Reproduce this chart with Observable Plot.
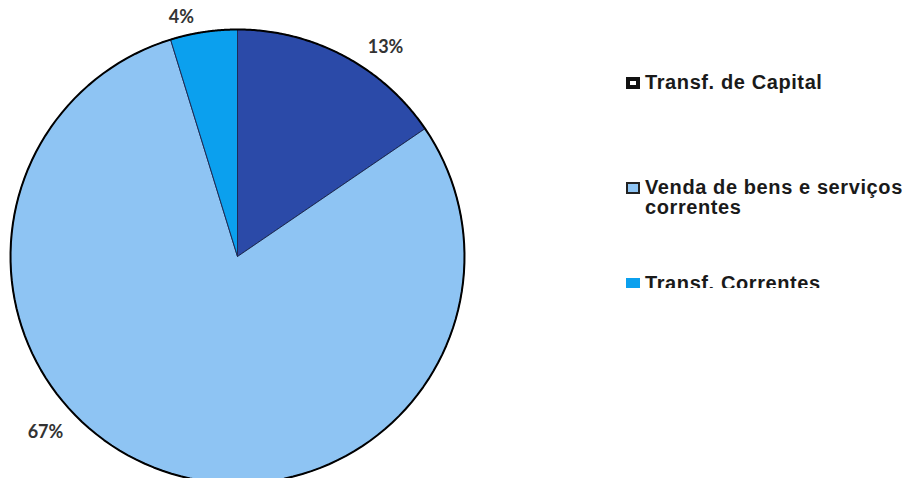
<!DOCTYPE html>
<html><head><meta charset="utf-8">
<script src="https://cdn.jsdelivr.net/npm/d3@7"></script>
<script src="https://cdn.jsdelivr.net/npm/@observablehq/plot@0.6"></script>
<style>
body{margin:0;overflow:hidden;background:#fff}
#wrap{position:relative;width:911px;height:478px;overflow:hidden}
.lg{position:absolute;font-family:"Liberation Sans",Arial,sans-serif;font-weight:bold;font-size:20px;color:#1a1a1a;line-height:20px;letter-spacing:0.6px;white-space:nowrap}
.mk{position:absolute;box-sizing:border-box;width:14px;height:12px}
#mask{position:absolute;left:610px;top:288px;width:301px;height:30px;background:#fff}
</style></head><body>
<div id="wrap"></div>
<script>
const categories = ["Transf. de Capital", "Venda de bens e serviços correntes", "Transf. Correntes"];
const values = [13, 67, 4];
const pctLabels = ["13%", "67%", "4%"];
const colors = ["#2b4aa8", "#8ec4f3", "#0ba0ee"];

const data = categories.map((c, i) => ({category: c, value: values[i], label: pctLabels[i]}));
const arcs = d3.pie().sort(null).value(d => d.value)(data);
const N = 120;
const slicePts = [];
const rimPts = [];
for (const a of arcs) {
  const c = a.data.category;
  slicePts.push({category: c, x: 0, y: 0});
  for (let k = 0; k <= N; k++) {
    const t = a.startAngle + (a.endAngle - a.startAngle) * k / N;
    slicePts.push({category: c, x: Math.sin(t), y: Math.cos(t)});
    rimPts.push({x: Math.sin(t), y: Math.cos(t)});
  }
  slicePts.push({category: c, x: 0, y: 0});
}
// label anchor positions (data units relative to pie centre)
const labelPos = {"13%": [0.652, 0.921], "67%": [-0.846, -0.775], "4%": [-0.247, 1.053]};
const labelData = data.map(d => ({label: d.label, x: labelPos[d.label][0], y: labelPos[d.label][1]}));

const chart = Plot.plot({
  width: 911, height: 478,
  margin: 0,
  style: {background: "transparent", overflow: "visible"},
  x: {domain: [-1, 1], range: [10, 464], axis: null},
  y: {domain: [-1, 1], range: [483, 29], axis: null},
  color: {domain: categories, range: colors},
  marks: [
    Plot.line(slicePts, {x: "x", y: "y", z: "category", fill: "category", stroke: "#1d2b55", strokeWidth: 1, curve: "linear"}),
    Plot.line(rimPts, {x: "x", y: "y", stroke: "#000", strokeWidth: 2, curve: "linear"}),
    Plot.text(labelData, {x: "x", y: "y", text: "label", fontSize: 18, fontWeight: "bold", fill: "#333", fontFamily: "Lato, 'Open Sans', sans-serif"})
  ]
});
const wrap = document.getElementById("wrap");
wrap.appendChild(chart);

// legend
const legendRows = [
  {lines: [categories[0]], top: 72, mk: {border: "4px solid #111", bg: "#fff"}},
  {lines: ["Venda de bens e serviços", "correntes"], top: 177, mk: {border: "2px solid #222", bg: colors[1]}},
  {lines: [categories[2]], top: 273, mk: {border: "none", bg: colors[2]}}
];
for (const r of legendRows) {
  const m = document.createElement("div");
  m.className = "mk";
  m.style.left = "626px"; m.style.top = (r.top + 5) + "px";
  m.style.border = r.mk.border; m.style.background = r.mk.bg;
  wrap.appendChild(m);
  const t = document.createElement("div");
  t.className = "lg";
  t.style.left = "645px"; t.style.top = r.top + "px";
  t.innerHTML = r.lines.join("<br>");
  wrap.appendChild(t);
}
const mask = document.createElement("div");
mask.id = "mask";
wrap.appendChild(mask);
</script>
</body></html>
